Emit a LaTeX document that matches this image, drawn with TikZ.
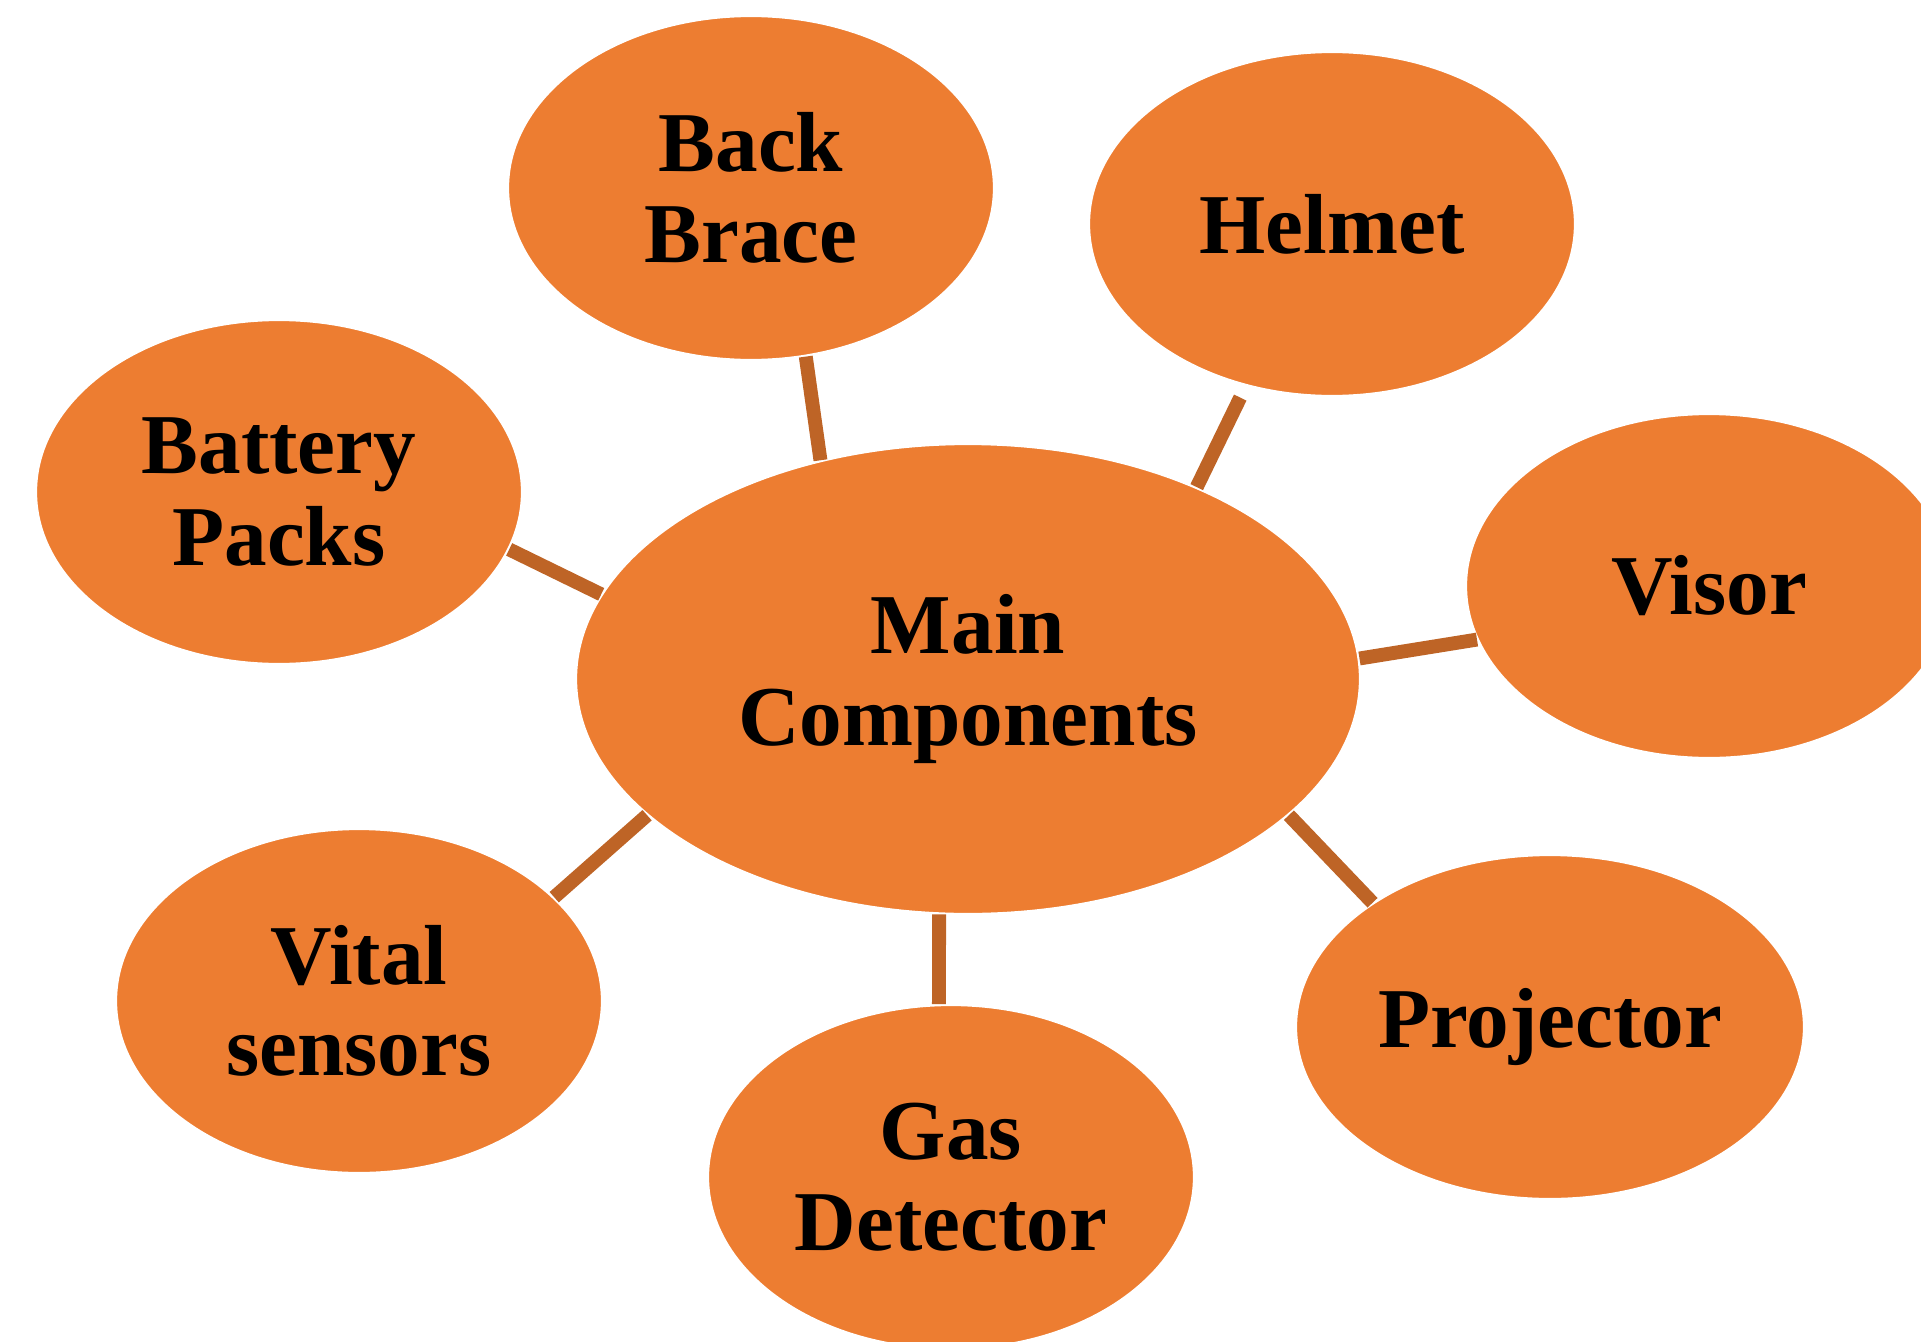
\documentclass[tikz,border=0pt]{standalone}
\usepackage{fontspec}
\setmainfont{Liberation Serif}
\usetikzlibrary{shapes.geometric}
\definecolor{bubble}{RGB}{237,125,49}
\definecolor{spoke}{RGB}{190,100,38}

\begin{document}
\begin{tikzpicture}[x=0.02cm, y=-0.02cm,
  every node/.style={font=\fontsize{48.5}{52}\selectfont\bfseries, align=center},
  partbubble/.style={ellipse, fill=bubble, draw=white, line width=1.2pt, inner sep=0pt,
    minimum width=9.72cm, minimum height=6.88cm},
  hubbubble/.style={partbubble, minimum width=15.68cm, minimum height=9.4cm},
  spokeline/.style={draw=spoke, line width=7.9pt}]
  \useasboundingbox (0,0) rectangle (1921,1342);

  % hub and the seven parts around it
  \node[hubbubble] (main) at (968,679) {Main\\Components};
  \node[partbubble] (brace) at (751,188) {Back\\Brace};
  \node[partbubble] (helmet) at (1332,224) {Helmet};
  \node[partbubble] (battery) at (279,492) {Battery\\Packs};
  \node[partbubble] (visor) at (1709,586) {Visor};
  \node[partbubble, minimum width=10.16cm] (projector) at (1550,1027) {Projector};
  \node[partbubble] (vital) at (359,1001) {Vital\\sensors};
  \node[partbubble] (gas) at (951,1177) {Gas\\Detector};

  % spokes
  \draw[spokeline] (brace.-72) -- (main.124);
  \draw[spokeline, shorten <=0.26cm] (helmet.242) -- (main.40);
  \draw[spokeline] (battery.-14) -- (main.167);
  \draw[spokeline] (visor.193) -- (main.3);
  \draw[spokeline] (projector.145) -- (main.-23);
  \draw[spokeline] (gas.94) -- (main.263);
  \draw[spokeline] (vital.28) -- (main.203);
\end{tikzpicture}
\end{document}
